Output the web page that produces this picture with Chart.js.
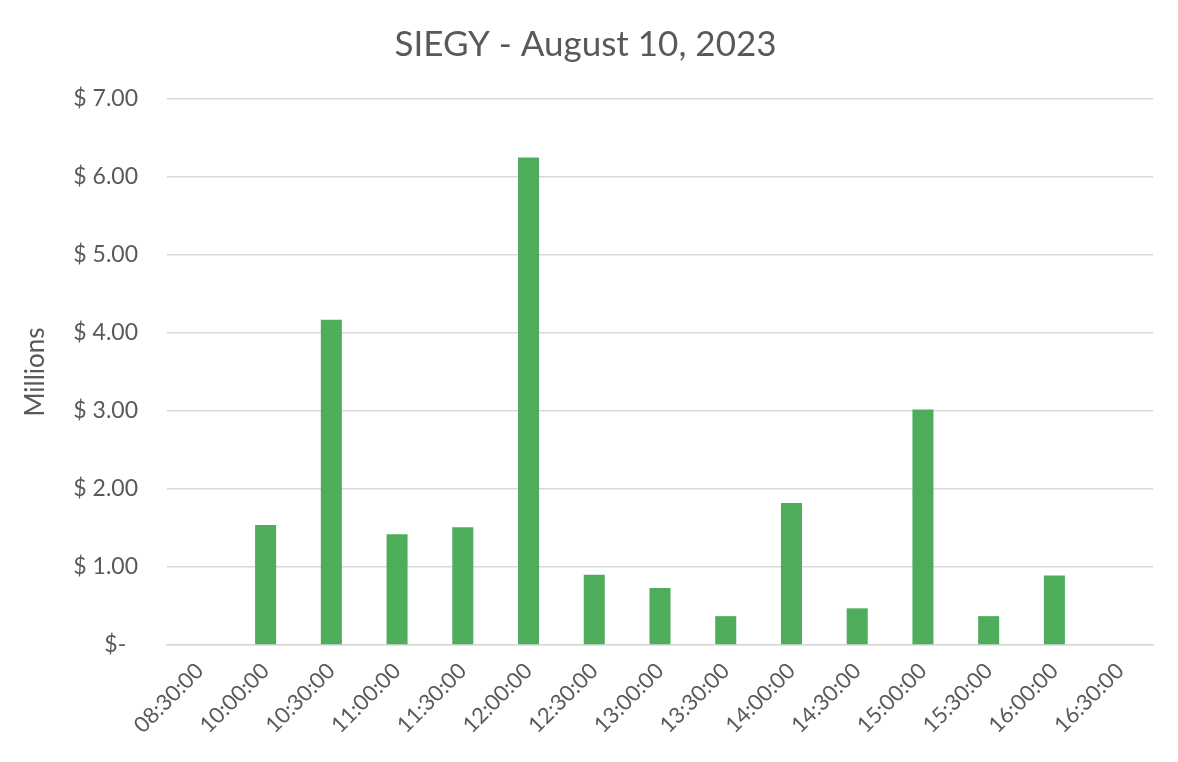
<!DOCTYPE html>
<html>
<head>
<meta charset="utf-8">
<script src="https://cdn.jsdelivr.net/npm/chart.js@4/dist/chart.umd.min.js"></script>
<style>
  html, body { margin: 0; padding: 0; background: #fff; }
  #wrap { width: 1178px; height: 762px; }
</style>
</head>
<body>
<div id="wrap"><canvas id="chart" width="1178" height="762"></canvas></div>
<script>
const times = ['08:30:00', '10:00:00', '10:30:00', '11:00:00', '11:30:00', '12:00:00', '12:30:00',
    '13:00:00', '13:30:00', '14:00:00', '14:30:00', '15:00:00', '15:30:00', '16:00:00', '16:30:00'];
const valueMillions = [0, 1.54, 4.17, 1.42, 1.51, 6.25, 0.90, 0.73, 0.37, 1.82, 0.47, 3.02, 0.37, 0.89, 0];
const yTicks = [0, 1, 2, 3, 4, 5, 6, 7];

const textColor = '#595959';
const fontFamily = 'Lato, "Open Sans", sans-serif';

function formatDollars(value) {
    if (value === 0) return '$-  ';
    return '$ ' + value.toFixed(2);
}

new Chart(document.getElementById('chart'), {
    type: 'bar',
    data: {
        labels: times,
        datasets: [{
            label: 'Value',
            data: valueMillions,
            backgroundColor: '#4EAD5B',
            borderWidth: 0,
            categoryPercentage: 1,
            barPercentage: 0.32
        }]
    },
    options: {
        responsive: false,
        animation: false,
        layout: { padding: { top: 5, right: 25, bottom: 0, left: 18 } },
        plugins: {
            legend: { display: false },
            tooltip: { enabled: false },
            title: {
                display: true,
                text: 'SIEGY - August 10, 2023',
                color: textColor,
                font: { family: fontFamily, size: 35, weight: 'normal' },
                padding: { top: 19, bottom: 33 }
            }
        },
        scales: {
            x: {
                grid: { display: false },
                border: { display: true, color: '#D9D9D9', width: 1.5 },
                ticks: {
                    color: textColor,
                    font: { family: fontFamily, size: 22 },
                    minRotation: 45,
                    maxRotation: 45,
                    autoSkip: false,
                    padding: 5
                },
                afterFit: (scale) => { scale.height = 117; }
            },
            y: {
                min: 0,
                max: 7,
                afterBuildTicks: (scale) => { scale.ticks = yTicks.map(v => ({ value: v })); },
                grid: { color: '#D9D9D9', lineWidth: 1.5, drawTicks: false },
                border: { display: false },
                ticks: {
                    color: textColor,
                    font: { family: fontFamily, size: 23 },
                    padding: 29,
                    callback: (value) => formatDollars(value)
                },
                title: {
                    display: true,
                    text: 'Millions',
                    color: textColor,
                    font: { family: fontFamily, size: 26 },
                    padding: { top: 2, bottom: 0 }
                },
                afterFit: (scale) => { scale.width = 149; }
            }
        }
    }
});
</script>
</body>
</html>
